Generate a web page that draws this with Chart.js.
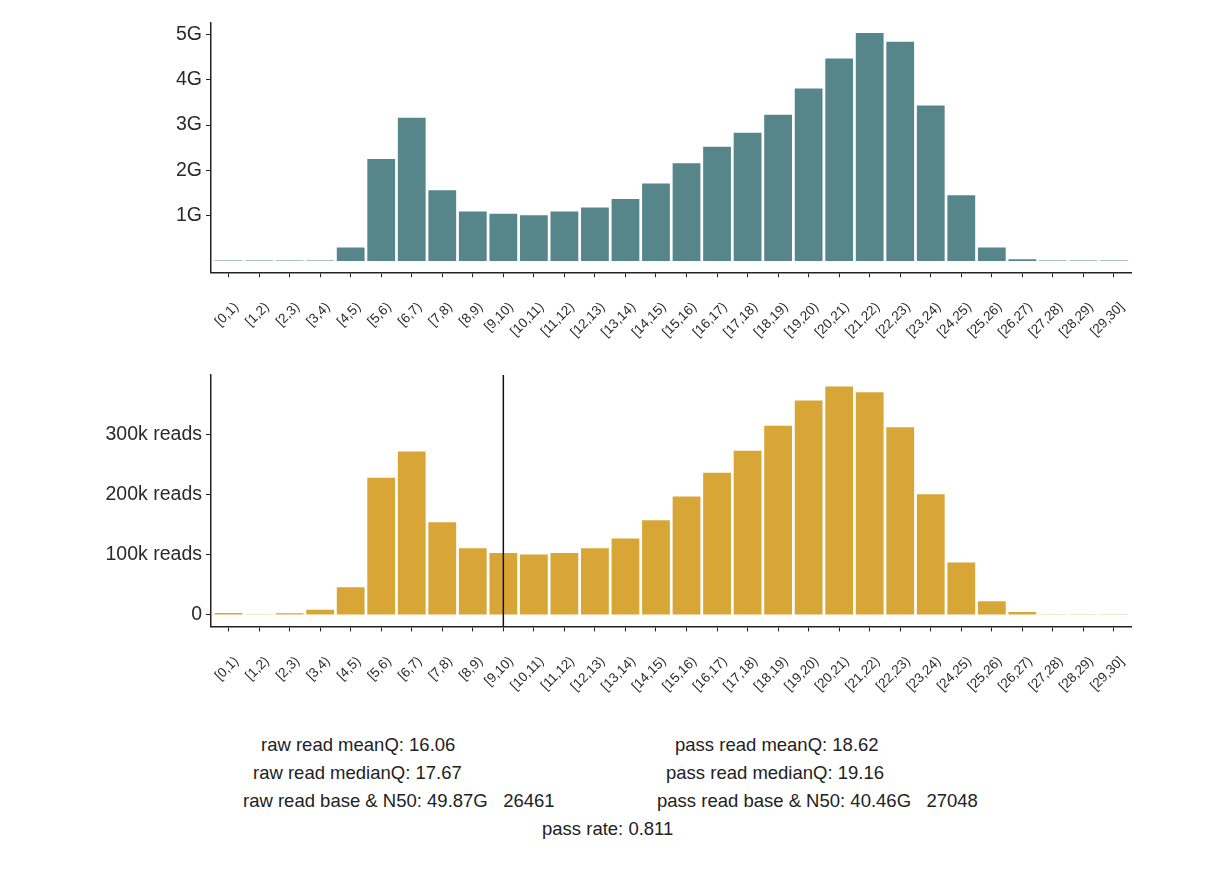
<!DOCTYPE html>
<html>
<head>
<meta charset="utf-8">
<script src="https://cdn.jsdelivr.net/npm/chart.js@4.4.1/dist/chart.umd.min.js"></script>
<style>
  body { margin: 0; background: #fff; width: 1230px; height: 880px; position: relative; overflow: hidden; }
  canvas { position: absolute; left: 0; }
  #baseChart { top: 0; }
  #readsChart { top: 350px; }
  .stat { position: absolute; font-family: 'Liberation Sans', Arial, sans-serif; font-size: 18.5px; line-height: 20px; color: #222; white-space: pre; }
</style>
</head>
<body>
<canvas id="baseChart" width="1230" height="350"></canvas>
<canvas id="readsChart" width="1230" height="350"></canvas>

<div class="stat" style="left:261px; top:735px;">raw read meanQ: 16.06</div>
<div class="stat" style="left:253px; top:763px;">raw read medianQ: 17.67</div>
<div class="stat" style="left:243px; top:791px;">raw read base &amp; N50: 49.87G   26461</div>
<div class="stat" style="left:675px; top:735px;">pass read meanQ: 18.62</div>
<div class="stat" style="left:666px; top:763px;">pass read medianQ: 19.16</div>
<div class="stat" style="left:657px; top:791px;">pass read base &amp; N50: 40.46G   27048</div>
<div class="stat" style="left:542px; top:819px;">pass rate: 0.811</div>

<script>
// Quality score bins
const qLabels = ['[0,1)', '[1,2)', '[2,3)', '[3,4)', '[4,5)', '[5,6)', '[6,7)', '[7,8)', '[8,9)', '[9,10)',
    '[10,11)', '[11,12)', '[12,13)', '[13,14)', '[14,15)', '[15,16)', '[16,17)', '[17,18)', '[18,19)', '[19,20)',
    '[20,21)', '[21,22)', '[22,23)', '[23,24)', '[24,25)', '[25,26)', '[26,27)', '[27,28)', '[28,29)', '[29,30]'];

// Bases per bin (G)
const baseGb = [0.01, 0.01, 0.01, 0.01, 0.30, 2.25, 3.16, 1.56, 1.09, 1.04,
    1.01, 1.09, 1.18, 1.37, 1.71, 2.16, 2.52, 2.83, 3.23, 3.81,
    4.47, 5.03, 4.84, 3.43, 1.45, 0.30, 0.04, 0.01, 0.01, 0.01];

// Reads per bin (k)
const readsK = [3.3, 1, 3, 8.8, 46, 228, 272, 154, 111, 103,
    100.6, 103, 111, 127, 157.5, 197, 236.6, 273, 314.5, 356.5,
    379.8, 370.4, 312, 200.7, 87.4, 23, 5, 1.2, 1.2, 1.2];

const baseTicks = [1, 2, 3, 4, 5];
const readTicks = [0, 100, 200, 300];

// pass cutoff bin
const passCut = '[9,10)';

const FONT = "'Liberation Sans', Arial, sans-serif";
const TEXT = '#2a2a2a';
const AXIS = '#222';

// vertical cut line on reads chart
const cutLine = {
    id: 'cutLine',
    afterDatasetsDraw(chart) {
        const ctx = chart.ctx;
        const area = chart.chartArea;
        const x = chart.scales.x.getPixelForValue(qLabels.indexOf(passCut));
        ctx.save();
        ctx.strokeStyle = '#111';
        ctx.lineWidth = 1.5;
        ctx.beginPath();
        ctx.moveTo(x, area.top);
        ctx.lineTo(x, area.bottom);
        ctx.stroke();
        ctx.restore();
    }
};

function histChart(id, values, color, yTicks, yMin, yMax, fmt, padTop, plotBottom, plugins) {
    const canvas = document.getElementById(id);
    return new Chart(canvas, {
        type: 'bar',
        data: {
            datasets: [{
                data: values.map((v, i) => ({ x: i, y: v })),
                backgroundColor: color,
                borderWidth: 0,
                categoryPercentage: 1,
                barPercentage: 0.91
            }]
        },
        options: {
            responsive: false,
            animation: false,
            devicePixelRatio: 1,
            layout: { padding: { left: 0, right: 98.5, top: padTop, bottom: 0 } },
            plugins: { legend: { display: false }, tooltip: { enabled: false } },
            scales: {
                x: {
                    type: 'linear',
                    min: -0.575,
                    max: 29.575,
                    offset: false,
                    grid: { display: true, offset: false, drawOnChartArea: false, drawTicks: true, tickLength: 5, color: AXIS, lineWidth: 1 },
                    border: { display: true, color: AXIS, width: 1.5 },
                    afterBuildTicks: s => { s.ticks = qLabels.map((_, i) => ({ value: i })); },
                    afterFit: s => { s.height = canvas.height - plotBottom; },
                    ticks: {
                        autoSkip: false,
                        minRotation: 45,
                        maxRotation: 45,
                        padding: 22,
                        labelOffset: 8,
                        color: TEXT,
                        font: { family: FONT, size: 13.5 },
                        callback: v => qLabels[v]
                    }
                },
                y: {
                    min: yMin,
                    max: yMax,
                    grid: { display: true, drawOnChartArea: false, drawTicks: true, tickLength: 5, color: AXIS, lineWidth: 1 },
                    border: { display: true, color: AXIS, width: 1.5 },
                    afterBuildTicks: s => { s.ticks = yTicks.map(v => ({ value: v })); },
                    afterFit: s => { s.width = 211; },
                    ticks: {
                        padding: 4,
                        color: TEXT,
                        font: { family: FONT, size: 19.5 },
                        callback: fmt
                    }
                }
            }
        },
        plugins: plugins || []
    });
}

histChart('baseChart', baseGb, '#57868a', baseTicks, -0.25, 5.26, v => v + 'G', 22.7, 272.3);
histChart('readsChart', readsK, '#d8a636', readTicks, -19, 399, v => (v === 0 ? '0' : v + 'k reads'), 25, 276.4, [cutLine]);
</script>
</body>
</html>
